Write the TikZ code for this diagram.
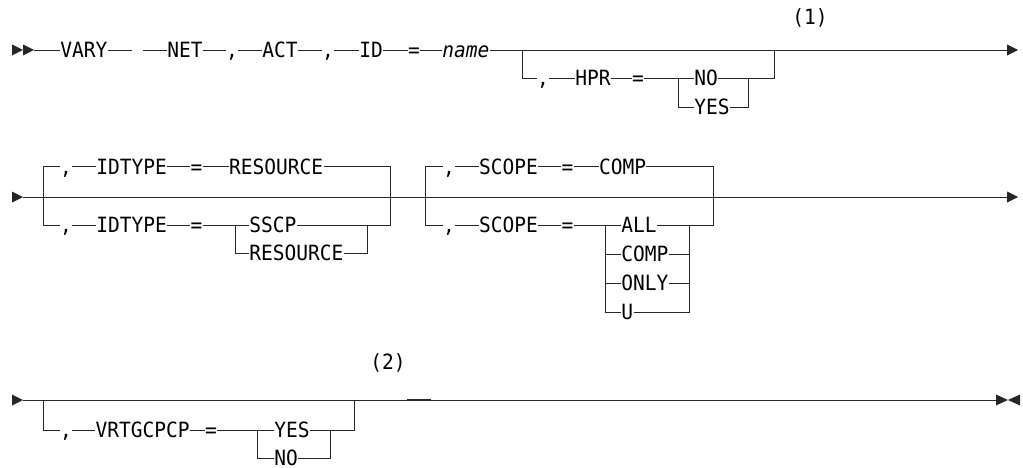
\documentclass[tikz,border=0pt]{standalone}
\usepackage{fontspec}
\newfontfamily\railfont{DejaVu Sans Mono}[FakeStretch=0.93]
\usetikzlibrary{arrows.meta}

\begin{document}
\begin{tikzpicture}[x=1pt, y=-1pt, line width=0.8pt, draw=black!85,
    kw/.style={font=\railfont\fontsize{21}{22}\selectfont, inner sep=0pt,
      text height=15.2pt, text depth=0pt, anchor=west},
    sym/.style={kw, anchor=center},
    note/.style={font=\railfont\fontsize{21}{22}\selectfont, inner sep=0pt},
    endarrow/.style={-{Triangle[length=11pt,width=11pt]}}]
    \useasboundingbox (0,0) rectangle (1023,468);

    % Draw Row 1: VARY NET,ACT,ID=name
    \fill[black!85] (12,44.5) -- (23,50) -- (12,55.5) -- cycle;
    \fill[black!85] (23,44.5) -- (34,50) -- (23,55.5) -- cycle;
    \coordinate (s1) at (34,50);
    \node[kw] (vary) at (60,50) {VARY};
    \coordinate (g1) at (132,50);
    \coordinate (g2) at (143,50);
    \node[kw] (net) at (167,50) {NET};
    \node[sym] (c1) at (232,50) {,};
    \node[kw] (act) at (262,50) {ACT};
    \node[sym] (c2) at (328,50) {,};
    \node[kw] (id) at (359,50) {ID};
    \node[sym] (eq1) at (414,50) {=};
    \node[kw] (name) at (442,50) {\itshape name};
    \coordinate (e1) at (1018,50);
    \draw (s1) -- (vary) (vary) -- (g1) (g2) -- (net) (net) -- (c1) (c1) -- (act)
          (act) -- (c2) (c2) -- (id) (id) -- (eq1) (eq1) -- (name);
    \draw[endarrow] (name) -- (e1);

    % Optional HPR branch
    \coordinate (b1) at (522,50);
    \coordinate (b2) at (774,50);
    \node[sym] (c3) at (543,78) {,};
    \node[kw] (hpr) at (575,78) {HPR};
    \node[sym] (eq2) at (638,78) {=};
    \coordinate (j1) at (678,78);
    \node[kw] (no1) at (694,78) {NO};
    \node[kw] (yes1) at (694,107) {YES};
    \coordinate (k1) at (748,78);
    \draw (c3.west) -| (b1);
    \draw (c3) -- (hpr) (hpr) -- (eq2) (eq2) -- (no1);
    \draw (j1) |- (yes1);
    \draw (yes1) -| (k1);
    \draw (no1) -| (b2);
    \node[note] (n1) at (810,18) {(1)};

    % Draw Row 2: IDTYPE and SCOPE
    \fill[black!85] (12,191.5) -- (23,197) -- (12,202.5) -- cycle;
    \coordinate (s2) at (23,197);
    \coordinate (e2) at (1018,197);
    \draw[endarrow] (s2) -- (e2);

    % IDTYPE block
    \coordinate (a1) at (43,197);
    \coordinate (a2) at (390,197);
    \node[sym] (c4) at (66,166.5) {,};
    \node[kw] (idt1) at (96,166.5) {IDTYPE};
    \node[sym] (eq3) at (196.5,166.5) {=};
    \node[kw] (res1) at (228.7,166.5) {RESOURCE};
    \node[sym] (c5) at (66,225) {,};
    \node[kw] (idt2) at (96,225) {IDTYPE};
    \node[sym] (eq4) at (196.5,225) {=};
    \coordinate (j2) at (235,225);
    \node[kw] (sscp) at (249,225) {SSCP};
    \node[kw] (res2) at (249,253) {RESOURCE};
    \coordinate (k2) at (367,225);
    \draw (c4.west) -| (a1);
    \draw (c5.west) -| (a1);
    \draw (c4) -- (idt1) (idt1) -- (eq3) (eq3) -- (res1);
    \draw (c5) -- (idt2) (idt2) -- (eq4) (eq4) -- (sscp);
    \draw (res1) -| (a2);
    \draw (sscp) -| (a2);
    \draw (j2) |- (res2);
    \draw (res2) -| (k2);

    % SCOPE block
    \coordinate (a3) at (425,197);
    \coordinate (a4) at (713,197);
    \node[sym] (c6) at (449,166.5) {,};
    \node[kw] (scp1) at (478.8,166.5) {SCOPE};
    \node[sym] (eq5) at (567.5,166.5) {=};
    \node[kw] (comp1) at (598.6,166.5) {COMP};
    \node[sym] (c7) at (449,225) {,};
    \node[kw] (scp2) at (478.8,225) {SCOPE};
    \node[sym] (eq6) at (567.5,225) {=};
    \coordinate (j3) at (605,225);
    \node[kw] (all) at (621,225) {ALL};
    \node[kw] (comp2) at (621,254) {COMP};
    \node[kw] (only) at (621,283) {ONLY};
    \node[kw] (u) at (621,312) {U};
    \coordinate (k3) at (689,225);
    \draw (c6.west) -| (a3);
    \draw (c7.west) -| (a3);
    \draw (c6) -- (scp1) (scp1) -- (eq5) (eq5) -- (comp1);
    \draw (c7) -- (scp2) (scp2) -- (eq6) (eq6) -- (all);
    \draw (comp1) -| (a4);
    \draw (all) -| (a4);
    \foreach \v in {comp2, only, u} {
      \draw (j3) |- (\v);
      \draw (\v) -| (k3);
    }

    % Draw Row 3: VRTGCPCP
    \fill[black!85] (12,394.5) -- (23,400) -- (12,405.5) -- cycle;
    \coordinate (s3) at (23,400);
    \coordinate (e3) at (997,400);
    \draw (s3) -- (e3);
    \fill[black!85] (996,394.5) -- (1008,400) -- (996,405.5) -- cycle;
    \fill[black!85] (1020,394.5) -- (1008,400) -- (1020,405.5) -- cycle;
    \draw[line width=2pt] (407,400) -- (431,400);

    \coordinate (a5) at (43,400);
    \coordinate (a6) at (354,400);
    \node[sym] (c8) at (66,430) {,};
    \node[kw] (vrt) at (95.2,430) {VRTGCPCP};
    \node[sym] (eq7) at (211,430) {=};
    \coordinate (j4) at (257,430);
    \node[kw] (yes2) at (274,430) {YES};
    \node[kw] (no2) at (274,458) {NO};
    \coordinate (k4) at (330,430);
    \draw (c8.west) -| (a5);
    \draw (c8) -- (vrt) (vrt) -- (eq7) (eq7) -- (yes2);
    \draw (yes2) -| (a6);
    \draw (j4) |- (no2);
    \draw (no2) -| (k4);
    \node[note] (n2) at (388,363) {(2)};
\end{tikzpicture}
\end{document}
